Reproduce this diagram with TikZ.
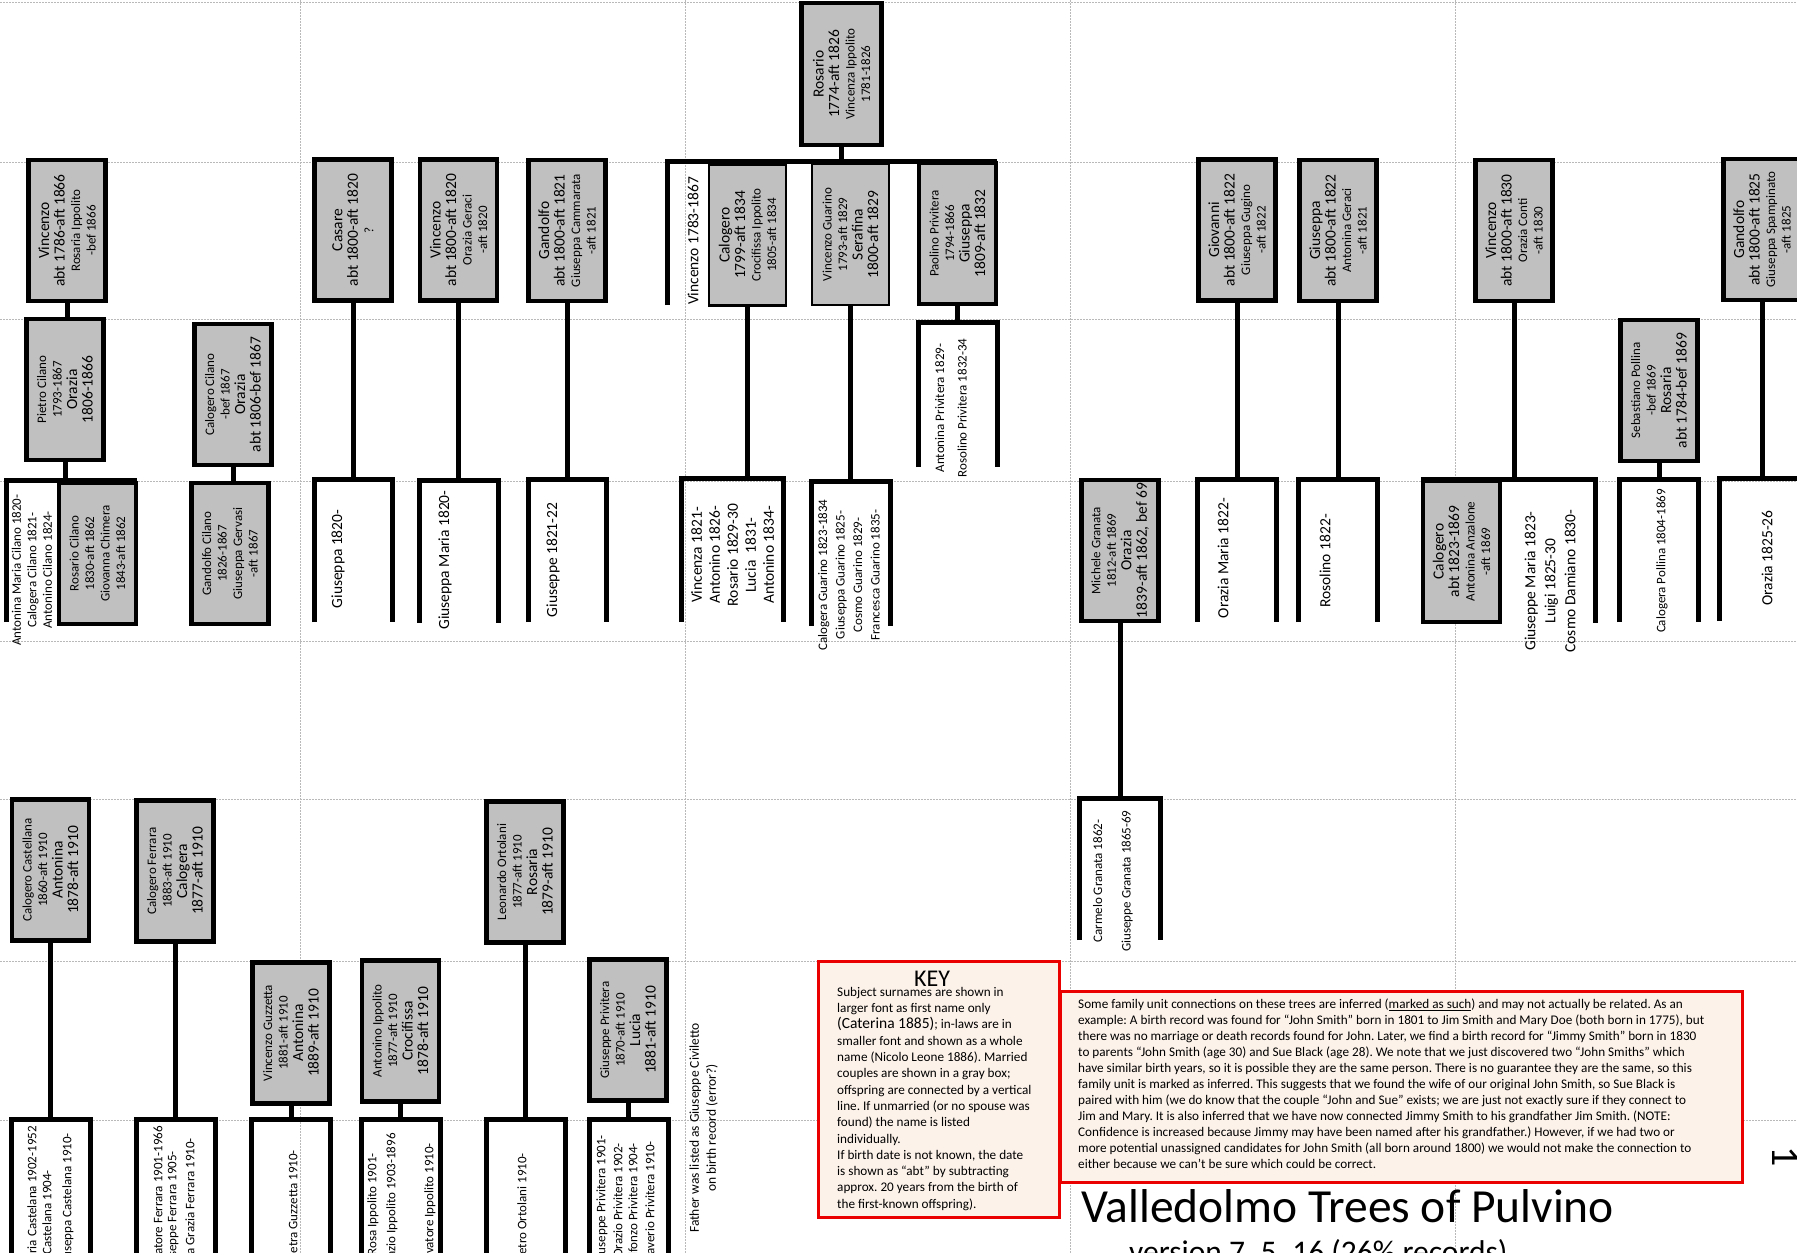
\documentclass[tikz,border=0pt]{standalone}
\usepackage{fontspec}
\setmainfont{Carlito}
\frenchspacing

\definecolor{boxgray}{RGB}{192,192,192}
\definecolor{keyfill}{RGB}{253,242,234}
\definecolor{keyred}{RGB}{235,0,0}
\definecolor{guidegray}{RGB}{185,185,185}

\newcommand{\bigf}{\fontsize{15.5}{18}\selectfont}
\newcommand{\smallf}{\fontsize{13}{15.5}\selectfont}

\tikzset{
  couple/.style={draw, line width=4.5pt, fill=boxgray, rotate=90, align=center,
    inner sep=0pt, font=\smallf, minimum width=141pt, minimum height=77pt},
  thincouple/.style={couple, line width=2.5pt},
  kidframe/.style={inner sep=0pt, minimum width=78pt, minimum height=142pt},
  kidtext/.style={rotate=90, align=center, inner sep=0pt, font=\smallf},
  kidline/.style={kidtext, anchor=east},
  famline/.style={line width=5pt},
  dotline/.style={guidegray, line width=1pt, dash pattern=on 1.5pt off 1.5pt},
  keybox/.style={draw=keyred, line width=3pt, fill=keyfill, inner sep=0pt},
}

\begin{document}
\begin{tikzpicture}[x=1pt, y=-1pt]
\useasboundingbox (0,0) rectangle (1797,1253);

% dotted guides
\foreach \y in {2,162,319,481,641,799,961,1120}
  \draw[dotline] (0,\y) -- (1797,\y);
\foreach \x in {300,685,1070,1455}
  \draw[dotline] (\x,0) -- (\x,1253);

% offspring frames
\node[kidframe, minimum width=130pt, minimum height=141pt] (kcil) at (72,551.5) {};
\node[kidframe, minimum width=329pt, minimum height=143pt] (kros) at (832.5,233.5) {};
\node[kidframe, minimum width=174pt, minimum height=143pt] (kvin3) at (1508,551.5) {};
\node[kidframe] (kcas) at (353.5,551) {};
\node[kidframe] (kvin2) at (459,551.5) {};
\node[kidframe] (kgan1) at (567.5,551) {};
\node[kidframe, minimum width=101pt, minimum height=143pt] (kcal) at (732.5,550.5) {};
\node[kidframe, minimum height=144pt] (kgua) at (851,554) {};
\node[kidframe, minimum height=144pt] (kpao) at (958,395) {};
\node[kidframe, minimum width=80pt, minimum height=141pt] (kmic) at (1120,869.5) {};
\node[kidframe] (kgio) at (1237,550.5) {};
\node[kidframe] (kgiu) at (1338,551) {};
\node[kidframe] (kseb) at (1659,551) {};
\node[kidframe, minimum width=92pt] (kgan2) at (1766,550) {};
\node[kidframe] (kcast) at (51,1191) {};
\node[kidframe] (kferr) at (176,1191) {};
\node[kidframe] (kguz) at (291,1191) {};
\node[kidframe] (kipp) at (401,1191) {};
\node[kidframe] (kort) at (526,1191) {};
\node[kidframe] (kpriv) at (629,1191) {};

% couples (rotated boxes: west is the bottom edge)
\node[couple, minimum width=142pt, minimum height=80pt] (rosario) at (841.5,74)
  {{\bigf Rosario}\\{\bigf 1774-aft 1826}\\Vincenza Ippolito\\1781-1826};
\node[couple] (vinc1) at (67,230.5)
  {{\bigf Vincenzo}\\{\bigf abt 1786-aft 1866}\\Rosaria Ippolito\\-bef 1866};
\node[couple] (pietro) at (65,389.5)
  {Pietro Cilano\\1793-1867\\{\bigf Orazia}\\{\bigf 1806-1866}};
\node[couple] (calcil) at (233,394.5)
  {Calogero Cilano\\-bef 1867\\{\bigf Orazia}\\{\bigf abt 1806-bef 1867}};
\node[couple] (casare) at (353,230)
  {{\bigf Casare}\\{\bigf abt 1800-aft 1820}\\?};
\node[couple] (vinc2) at (458.5,230)
  {{\bigf Vincenzo}\\{\bigf abt 1800-aft 1820}\\Orazia Geraci\\-aft 1820};
\node[couple] (gand1) at (567,230.5)
  {{\bigf Gandolfo}\\{\bigf abt 1800-aft 1821}\\Giuseppa Cammarata\\-aft 1821};
\node[thincouple] (calog) at (747.5,235)
  {{\bigf Calogero}\\{\bigf 1799-aft 1834}\\Crocifissa Ippolito\\1805-aft 1834};
\node[thincouple] (guarino) at (850.5,234.5)
  {Vincenzo Guarino\\1793-aft 1829\\{\bigf Serafina}\\{\bigf 1800-aft 1829}};
\node[couple] (paolino) at (957.5,233.5)
  {Paolino Privitera\\1794-1866\\{\bigf Giuseppa}\\{\bigf 1809-aft 1832}};
\node[couple] (giov) at (1237,230)
  {{\bigf Giovanni}\\{\bigf abt 1800-aft 1822}\\Giuseppa Gugino\\-aft 1822};
\node[couple] (giusa) at (1338,230.5)
  {{\bigf Giuseppa}\\{\bigf abt 1800-aft 1822}\\Antonina Geraci\\-aft 1821};
\node[couple] (vinc3) at (1514,230.5)
  {{\bigf Vincenzo}\\{\bigf abt 1800-aft 1830}\\Orazia Conti\\-aft 1830};
\node[couple] (sebas) at (1659,390.5)
  {Sebastiano Pollina\\-bef 1869\\{\bigf Rosaria}\\{\bigf abt 1784-bef 1869}};
\node[couple] (gand2) at (1762,229.5)
  {{\bigf Gandolfo}\\{\bigf abt 1800-aft 1825}\\Giuseppa Spampinato\\-aft 1825};
\node[couple] (rcil) at (97.5,553.5)
  {Rosario Cilano\\1830-aft 1862\\Giovanna Chimera\\1843-aft 1862};
\node[couple] (gcil) at (230,553.5)
  {Gandolfo Cilano\\1826-1867\\Giuseppa Gervasi\\-aft 1867};
\node[couple] (michele) at (1120,550.5)
  {Michele Granata\\1812-aft 1869\\{\bigf Orazia}\\{\bigf 1839-aft 1862, bef 69}};
\node[couple] (calab) at (1461.5,551.5)
  {{\bigf Calogero}\\{\bigf abt 1823-1869}\\Antonina Anzalone\\-aft 1869};
\node[couple] (castel) at (50.5,870)
  {Calogero Castellana\\1860-aft 1910\\{\bigf Antonina}\\{\bigf 1878-aft 1910}};
\node[couple] (ferrara) at (175,871)
  {Calogero Ferrara\\1883-aft 1910\\{\bigf Calogera}\\{\bigf 1877-aft 1910}};
\node[couple] (guzz) at (291,1033)
  {Vincenzo Guzzetta\\1881-aft 1910\\{\bigf Antonina}\\{\bigf 1889-aft 1910}};
\node[couple] (ippol) at (400.5,1031)
  {Antonino Ippolito\\1877-aft 1910\\{\bigf Crocifissa}\\{\bigf 1878-aft 1910}};
\node[couple] (ortol) at (525,872)
  {Leonardo Ortolani\\1877-aft 1910\\{\bigf Rosaria}\\{\bigf 1879-aft 1910}};
\node[couple] (privit) at (628,1030)
  {Giuseppe Privitera\\1870-aft 1910\\{\bigf Lucia}\\{\bigf 1881-aft 1910}};

% offspring names
\node[kidtext] (tcil) at (32,570)
  {Antonina Maria Cilano 1820-\\Calogera Cilano 1821-\\Antonino Cilano 1824-};
\node[kidtext, font=\bigf] (tcas) at (338,559) {Giuseppa 1820-};
\node[kidtext, font=\bigf] (tvin2) at (445,560) {Giuseppa Maria 1820-};
\node[kidtext, font=\bigf] (tgan1) at (553,560) {Giuseppe 1821-22};
\node[kidtext, font=\bigf] (trosv) at (693,241) {Vincenzo 1783-1867};
\node[kidtext, font=\bigf] (tcal) at (732.5,555)
  {Vincenza 1821-\\Antonino 1826-\\Rosario 1829-30\\Lucia~~1831-\\Antonino 1834-};
\node[kidtext] (tgua) at (849,575)
  {Calogera Guarino 1823-1834\\[2pt]Giuseppa Guarino 1825-\\[2pt]Cosmo Guarino 1829-\\[2pt]Francesca Guarino 1835-};
\node[kidtext] (tpao) at (951,408)
  {Antonina Privitera 1829-\\[7pt]Rosolino Privitera 1832-34};
\node[kidtext] (tmic) at (1113,881)
  {Carmelo Granata 1862-\\[13pt]Giuseppe Granata 1865-69};
\node[kidtext, font=\bigf] (tgio) at (1223,558) {Orazia Maria 1822-};
\node[kidtext, font=\bigf] (tgiu) at (1325,561) {Rosolino 1822-};
\node[kidtext, font=\bigf] (tvin3) at (1550,581)
  {Giuseppe Maria 1823-\\[2pt]Luigi 1825-30\\[2pt]Cosmo Damiano 1830-};
\node[kidtext] (tseb) at (1662,561) {Calogera Pollina 1804-1869};
\node[kidtext, font=\bigf] (tgan2) at (1767,558) {Orazia 1825-26};
\node[kidtext, font=\fontsize{13.5}{17}\selectfont] (tnote) at (703.5,1128)
  {Father was listed as Giuseppe Civiletto\\on birth record (error?)};

\foreach \n/\x/\y/\t in {
    c1/32/1126/Maria Castelana 1902-1952, c2/47/1170/Vincenzo Castelana 1904-,
    c3/68/1133/Giuseppa Castelana 1910-,
    f1/158/1126/Salvatore Ferrara 1901-1966, f2/173/1151/Giuseppe Ferrara 1905-,
    f3/190/1138/Maria Grazia Ferrara 1910-,
    g1/293/1150/Pietra Guzzetta 1910-,
    i1/373/1153/Rosa Ippolito 1901-, i2/392/1133/Orazio Ippolito 1903-1896,
    i3/430/1143/Salvatore Ippolito 1910-,
    o1/522/1153/Pietro Ortolani 1910-,
    p1/602/1135/Giuseppe Privitera 1901-, p2/618/1143/Orazio Privitera 1902-,
    p3/633/1143/Alfonzo Privitera 1904-, p4/650/1141/Saverio Privitera 1910-}
  \node[kidline] (\n) at (\x,\y) {\t};

% family lines
\foreach \k in {kcas,kvin2,kgan1,kcal,kgua,kpao,kmic,kgio,kgiu,kseb,kgan2,
                kcast,kferr,kguz,kipp,kort,kpriv}
  \draw[famline] (\k.south west) |- (\k.north east) -- (\k.south east);
\draw[famline] (kcil.south west) |- (kcil.north east);
\draw[famline] (kros.south west) |- (kros.north east);
\draw[famline] (kvin3.north west) -| (kvin3.south east);

\foreach \p/\k in {vinc1/pietro.east, pietro/kcil.north, calcil/gcil.east,
    casare/kcas.north, vinc2/kvin2.north, gand1/kgan1.north, rosario/kros.north,
    calog/kcal.north, guarino/kgua.north, paolino/kpao.north, giov/kgio.north,
    giusa/kgiu.north, vinc3/kvin3.north, sebas/kseb.north, gand2/kgan2.north,
    michele/kmic.north, castel/kcast.north, ferrara/kferr.north, guzz/kguz.north,
    ippol/kipp.north, ortol/kort.north, privit/kpriv.north}
  \draw[famline] (\p.west) -- (\p.west |- \k);

% key
\node[keybox, minimum width=241pt, minimum height=256pt] (key) at (938.5,1089) {};
\node[inner sep=0pt, font=\fontsize{24}{28}\selectfont] (keyhead) at (932,978.5) {KEY};
\node[anchor=north west, align=left, inner sep=0pt, font=\fontsize{13.2}{16.3}\selectfont]
  (keybody) at (837,987)
  {Subject surnames are shown in\\
   larger font as first name only\\
   {\fontsize{15.5}{16.3}\selectfont (Caterina 1885)}; in-laws are in\\
   smaller font and shown as a whole\\
   name (Nicolo Leone 1886). Married\\
   couples are shown in a gray box;\\
   offspring are connected by a vertical\\
   line. If unmarried (or no spouse was\\
   found) the name is listed\\
   individually.\\
   If birth date is not known, the date\\
   is shown as “abt” by subtracting\\
   approx. 20 years from the birth of\\
   the first-known offspring).};

\node[keybox, minimum width=682pt, minimum height=191pt] (inferred) at (1401,1086.5) {};
\node[anchor=north west, align=left, inner sep=0pt, font=\fontsize{13.2}{16}\selectfont]
  (inferredtext) at (1078,999)
  {Some family unit connections on these trees are inferred (\underline{marked as such}) and may not actually be related. As an\\
   example: A birth record was found for “John Smith” born in 1801 to Jim Smith and Mary Doe (both born in 1775), but\\
   there was no marriage or death records found for John. Later, we find a birth record for “Jimmy Smith” born in 1830\\
   to parents “John Smith (age 30) and Sue Black (age 28). We note that we just discovered two “John Smiths” which\\
   have similar birth years, so it is possible they are the same person. There is no guarantee they are the same, so this\\
   family unit is marked as inferred. This suggests that we found the wife of our original John Smith, so Sue Black is\\
   paired with him (we do know that the couple “John and Sue” exists; we are just not exactly sure if they connect to\\
   Jim and Mary. It is also inferred that we have now connected Jimmy Smith to his grandfather Jim Smith. (NOTE:\\
   Confidence is increased because Jimmy may have been named after his grandfather.) However, if we had two or\\
   more potential unassigned candidates for John Smith (all born around 1800) we would not make the connection to\\
   either because we can’t be sure which could be correct.};

% title
\node[anchor=base west, inner sep=0pt, font=\fontsize{47.5}{56}\selectfont] (title)
  at (1081,1222) {Valledolmo Trees of Pulvino};
\node[anchor=base west, inner sep=0pt, font=\fontsize{31.5}{38}\selectfont] (version)
  at (1129,1262) {version 7\_5\_16 (26\% records)};
\node[rotate=-90, anchor=base, inner sep=0pt, font=\fontsize{40}{48}\selectfont] (pagenum)
  at (1772,1157) {1};
\end{tikzpicture}
\end{document}
